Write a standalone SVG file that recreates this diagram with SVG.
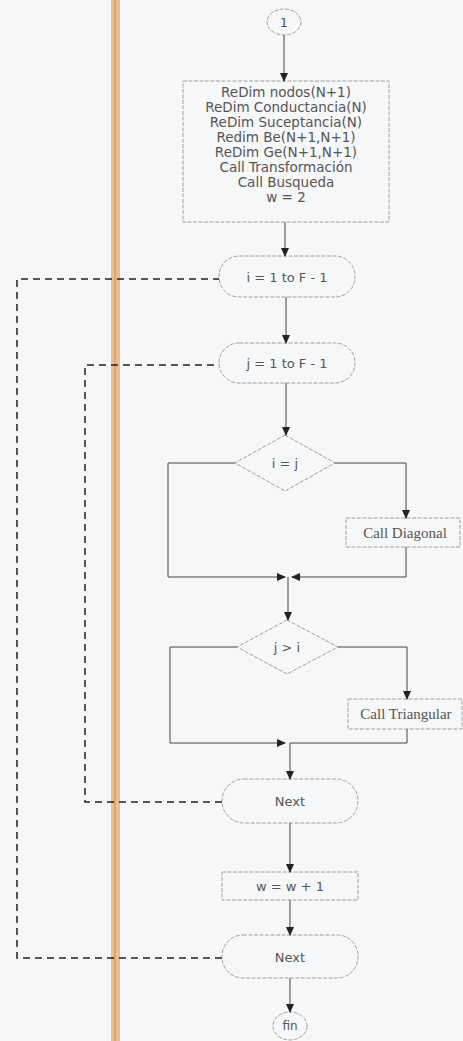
<svg xmlns="http://www.w3.org/2000/svg" width="463" height="1041" viewBox="0 0 463 1041">
<defs>
<marker id="ah" markerWidth="9" markerHeight="8" refX="8" refY="4" orient="auto" markerUnits="userSpaceOnUse"><path d="M0,0 L9,4 L0,8 z" fill="#222"/></marker>
<style>
.shape{fill:none;stroke:#a0a0a0;stroke-width:1;stroke-dasharray:4 1.5}
.t{font-family:"DejaVu Sans","Liberation Sans",sans-serif;font-size:13px;fill:#555;text-anchor:middle;dominant-baseline:central}
.b{font-size:13.5px}
.s{font-family:"Liberation Serif","Times New Roman",serif;font-size:15px}
.conn{fill:none;stroke:#444;stroke-width:1}
.loop{fill:none;stroke:#222;stroke-width:1.5;stroke-dasharray:7 5}
</style>
</defs>
<rect width="463" height="1041" fill="#f6f7f8"/>
<rect x="111" y="0" width="9" height="1041" fill="#ebbd8f"/>
<rect x="114" y="0" width="2" height="1041" fill="#d9a574"/>

<g id="start"><ellipse class="shape" cx="284" cy="22" rx="17" ry="13"/><text class="t" x="284" y="22">1</text></g>
<g id="init">
<rect class="shape" x="183" y="81" width="206" height="141"/>
<text class="t b" x="286" y="92">ReDim nodos(N+1)</text>
<text class="t b" x="286" y="107">ReDim Conductancia(N)</text>
<text class="t b" x="286" y="122">ReDim Suceptancia(N)</text>
<text class="t b" x="286" y="137">Redim Be(N+1,N+1)</text>
<text class="t b" x="286" y="152">ReDim Ge(N+1,N+1)</text>
<text class="t b" x="286" y="167">Call Transformación</text>
<text class="t b" x="286" y="182">Call Busqueda</text>
<text class="t b" x="286" y="197">w = 2</text>
</g>
<g id="loop_i"><rect class="shape" x="219" y="256" width="136" height="41" rx="20"/><text class="t" x="287" y="277">i = 1 to F - 1</text></g>
<g id="loop_j"><rect class="shape" x="219" y="343" width="136" height="40" rx="20"/><text class="t" x="287" y="363">j = 1 to F - 1</text></g>
<g id="dec1"><polygon class="shape" points="285,435 335,463 285,491 235,463"/><text class="t" x="285" y="463">i = j</text></g>
<g id="diag"><rect class="shape" x="346" y="518" width="114" height="29"/><text class="t s" x="405" y="533">Call Diagonal</text></g>
<g id="dec2"><polygon class="shape" points="287,620 338,647 287,674 237,647"/><text class="t" x="287" y="647">j &gt; i</text></g>
<g id="tri"><rect class="shape" x="348" y="699" width="114" height="30"/><text class="t s" x="406" y="714">Call Triangular</text></g>
<g id="next1"><rect class="shape" x="222" y="779" width="136" height="44" rx="22"/><text class="t" x="290" y="801">Next</text></g>
<g id="winc"><rect class="shape" x="222" y="872" width="136" height="28"/><text class="t" x="290" y="886">w = w + 1</text></g>
<g id="next2"><rect class="shape" x="222" y="935" width="136" height="43" rx="21"/><text class="t" x="290" y="957">Next</text></g>
<g id="fin"><ellipse class="shape" cx="290" cy="1026" rx="17" ry="14"/><text class="t" x="290" y="1026" style="font-size:12px">fin</text></g>

<g id="connectors">
<path class="conn" d="M284,35 V81" marker-end="url(#ah)"/>
<path class="conn" d="M285,222 V256" marker-end="url(#ah)"/>
<path class="conn" d="M286,297 V343" marker-end="url(#ah)"/>
<path class="conn" d="M286,383 V435" marker-end="url(#ah)"/>
<path class="conn" d="M335,463 H406 V518" marker-end="url(#ah)"/>
<path class="conn" d="M235,463 H168 V577 H285" marker-end="url(#ah)"/>
<path class="conn" d="M406,547 V577 H292" marker-end="url(#ah)"/>
<path class="conn" d="M288,577 V620" marker-end="url(#ah)"/>
<path class="conn" d="M338,647 H407 V699" marker-end="url(#ah)"/>
<path class="conn" d="M237,647 H170 V743 H285" marker-end="url(#ah)"/>
<path class="conn" d="M407,729 V743 H290"/>
<path class="conn" d="M290,743 V779" marker-end="url(#ah)"/>
<path class="conn" d="M290,823 V872" marker-end="url(#ah)"/>
<path class="conn" d="M290,900 V935" marker-end="url(#ah)"/>
<path class="conn" d="M290,978 V1012" marker-end="url(#ah)"/>
<path class="loop" d="M222,802 H85 V365 H219"/>
<path class="loop" d="M222,958 H17 V279 H219"/>
</g>
</svg>
